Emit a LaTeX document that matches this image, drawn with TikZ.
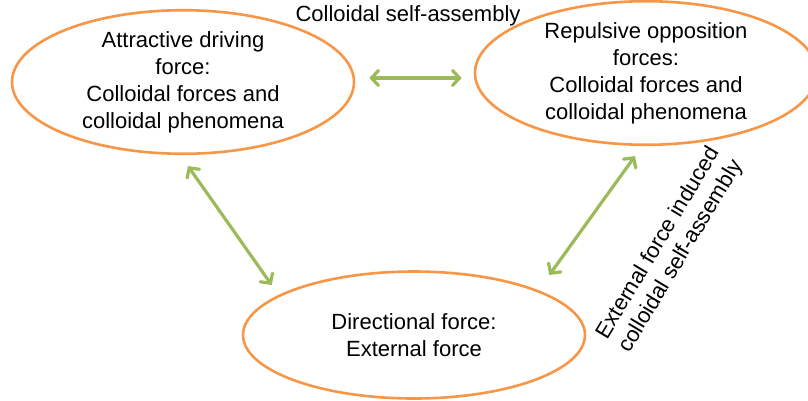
\documentclass[tikz,border=0pt]{standalone}
\usepackage{fontspec}
\setmainfont{Liberation Sans}
\usetikzlibrary{shapes.geometric,arrows.meta,calc}
\definecolor{ograngeline}{HTML}{F79646}
\definecolor{greenline}{HTML}{9BBB59}
\tikzset{
  bubble/.style={ellipse, draw=ograngeline, line width=2.6pt, minimum width=342pt, minimum height=127pt, inner sep=0pt, align=center, font=\fontsize{22}{27}\selectfont},
  conn/.style={draw=greenline, line width=3.2pt, {Straight Barb[length=7pt,width=15pt,line cap=round]}-{Straight Barb[length=7pt,width=15pt,line cap=round]}},
  lbl/.style={align=center, inner sep=0pt, font=\fontsize{22}{26}\selectfont}
}
\begin{document}
\begin{tikzpicture}[x=1pt,y=-1pt]
\useasboundingbox (0,0) rectangle (808,400);
\clip (0,0) rectangle (808,400);
\node[bubble] (L) at (183,82) {Attractive driving\\force:\\Colloidal forces and\\colloidal phenomena};
\node[bubble] (R) at (646,73) {Repulsive opposition\\forces:\\Colloidal forces and\\colloidal phenomena};
\node[bubble] (B) at (414,335) {Directional force:\\External force};
\node[lbl] (top) at (408,16) {Colloidal self-assembly};
\node[lbl, rotate=59] (side) at (670,250) {External force induced\\colloidal self-assembly};
\draw[conn] ($(L.east)+(14,-4)$) -- ($(R.west)+(-12,5)$);
\draw[conn] ($(L.south)+(5,11)$) -- ($(B.west)+(30,-50)$);
\draw[conn] ($(B.east)+(-37,-60)$) -- ($(R.south)+(-11,10)$);
\end{tikzpicture}
\end{document}
